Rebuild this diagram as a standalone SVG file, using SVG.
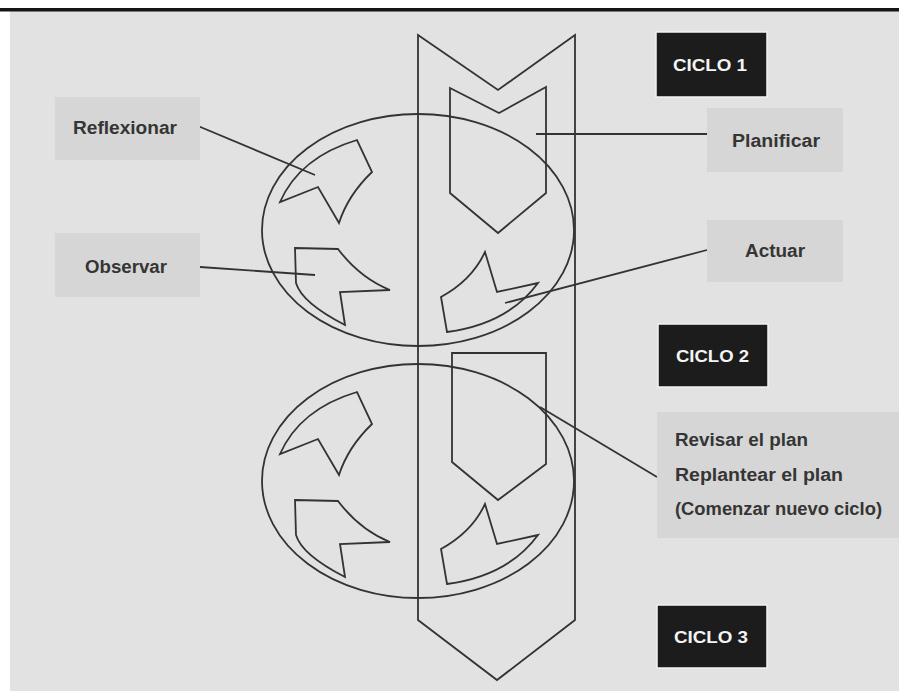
<svg xmlns="http://www.w3.org/2000/svg" width="899" height="691" viewBox="0 0 899 691">
<style>
.ln{fill:none;stroke:#333333;stroke-width:1.8;stroke-linejoin:miter}
.box{fill:#d6d6d6}
.cbox{fill:#1c1c1c;stroke:#f2f2f2;stroke-width:1.5}
.lbl{font-family:"Liberation Sans",Arial,sans-serif;font-weight:bold;font-size:18px;fill:#353535}
.clbl{font-family:"Liberation Sans",Arial,sans-serif;font-weight:bold;font-size:17px;fill:#f4f4f4}
</style>
<defs>
<g id="cycleShapes">
<path class="ln" d="M280,202 Q300,157 357,140 L372,172 Q348,195 339,223 L318,187 Z"/>
<path class="ln" d="M295,248 L338,249 Q360,278 390,290 L340,292 L345,325 Q302,303 296,283 Z"/>
<path class="ln" d="M485,252 L497,292 L538,283 Q508,324 447,332 L441,297 Q472,280 485,252 Z"/>
</g>
</defs>
<rect x="0" y="0" width="899" height="691" fill="#ffffff"/>
<rect x="10" y="10" width="889" height="681" fill="#e2e2e2"/>
<rect x="0" y="8" width="899" height="3.5" fill="#151515"/>

<g id="ribbon">
<path class="ln" d="M418,35 L498,90 L575,35 L575,620 L497,680 L418,620 Z"/>
</g>
<g id="cycle1">
<ellipse class="ln" cx="418" cy="230" rx="156" ry="116"/>
<path class="ln" d="M450,88 L499,113 L546,87 L546,193 L498,233 L450,193 Z"/>
<use href="#cycleShapes"/>
</g>
<g id="cycle2">
<ellipse class="ln" cx="418" cy="481" rx="156" ry="117"/>
<path class="ln" d="M452,353 L546,353 L546,464 L498,500 L452,462 Z"/>
<use href="#cycleShapes" transform="translate(0,252)"/>
</g>

<g id="connectors">
<line class="ln" x1="198" y1="126" x2="315" y2="175"/>
<line class="ln" x1="200" y1="267" x2="315" y2="275"/>
<line class="ln" x1="536" y1="134" x2="707" y2="134"/>
<line class="ln" x1="505" y1="303" x2="707" y2="250"/>
<line class="ln" x1="540" y1="407" x2="657" y2="477"/>
</g>

<g id="reflexionar">
<rect class="box" x="55" y="97" width="145" height="63"/>
<text class="lbl" x="73" y="134" textLength="104" lengthAdjust="spacingAndGlyphs">Reflexionar</text>
</g>
<g id="observar">
<rect class="box" x="55" y="233" width="145" height="64"/>
<text class="lbl" x="85" y="273" textLength="82" lengthAdjust="spacingAndGlyphs">Observar</text>
</g>
<g id="planificar">
<rect class="box" x="707" y="108" width="136" height="64"/>
<text class="lbl" x="732" y="147" textLength="88" lengthAdjust="spacingAndGlyphs">Planificar</text>
</g>
<g id="actuar">
<rect class="box" x="707" y="220" width="136" height="62"/>
<text class="lbl" x="745" y="257" textLength="60" lengthAdjust="spacingAndGlyphs">Actuar</text>
</g>
<g id="revisar">
<rect class="box" x="657" y="412" width="242" height="126"/>
<text class="lbl" x="675" y="446" textLength="133" lengthAdjust="spacingAndGlyphs">Revisar el plan</text>
<text class="lbl" x="675" y="481" textLength="168" lengthAdjust="spacingAndGlyphs">Replantear el plan</text>
<text class="lbl" x="675" y="515" textLength="207" lengthAdjust="spacingAndGlyphs">(Comenzar nuevo ciclo)</text>
</g>
<g id="ciclo1">
<rect class="cbox" x="656" y="32" width="111" height="65"/>
<text class="clbl" x="673" y="71" textLength="74" lengthAdjust="spacingAndGlyphs">CICLO 1</text>
</g>
<g id="ciclo2">
<rect class="cbox" x="658" y="324" width="110" height="63"/>
<text class="clbl" x="676" y="362" textLength="73" lengthAdjust="spacingAndGlyphs">CICLO 2</text>
</g>
<g id="ciclo3">
<rect class="cbox" x="657" y="605" width="110" height="63"/>
<text class="clbl" x="674" y="643" textLength="74" lengthAdjust="spacingAndGlyphs">CICLO 3</text>
</g>
</svg>
